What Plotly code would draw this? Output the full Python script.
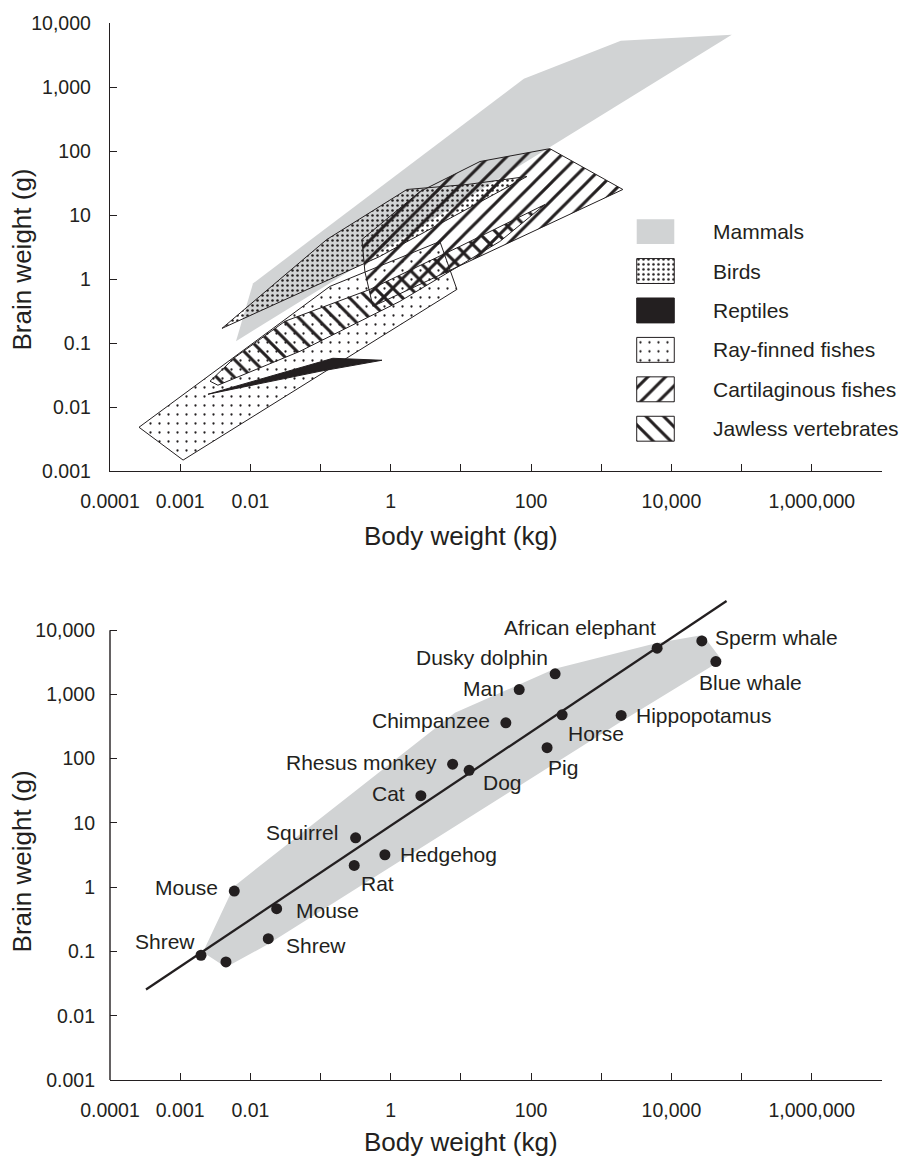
import numpy as np
import plotly.graph_objects as go

INK = "#231f20"
GRAY = "#d1d3d4"
FONT = "Liberation Sans, Arial, Helvetica, sans-serif"

# ---------------- Top panel: envelopes (body kg, brain g) ----------------
groups = ["Mammals", "Birds", "Reptiles", "Ray-finned fishes",
          "Cartilaginous fishes", "Jawless vertebrates"]

mammals_body = [0.0109, 78.9, 1900, 72400, 0.00624]
mammals_brain = [0.857, 1350, 5300, 6560, 0.107]
birds_body = [0.00394, 0.123, 1.70, 12.2, 87.1, 0.70]
birds_brain = [0.170, 4.16, 25.1, 30.0, 40.0, 2.26]
reptiles_body = [0.00249, 0.150, 0.750, 0.098]
reptiles_brain = [0.0159, 0.058, 0.054, 0.0363]
rayfin_body = [0.000259, 0.136, 5.02, 8.77, 0.0011]
rayfin_brain = [0.00485, 0.769, 3.87, 0.690, 0.00149]
cartil_body = [0.389, 2.61, 18.7, 185, 2030, 0.557, 0.428]
cartil_brain = [4.16, 23.3, 68.6, 109, 25.1, 0.375, 1.32]
jawless_body = [0.00266, 0.00604, 0.0311, 0.506, 9.68, 157, 35.9, 1.35, 0.0509, 0.00345]
jawless_brain = [0.0254, 0.060, 0.219, 0.690, 3.24, 14.6, 3.87, 0.449, 0.0745, 0.022]

envelopes = {
    "Mammals": (mammals_body, mammals_brain),
    "Birds": (birds_body, birds_brain),
    "Reptiles": (reptiles_body, reptiles_brain),
    "Ray-finned fishes": (rayfin_body, rayfin_brain),
    "Cartilaginous fishes": (cartil_body, cartil_brain),
    "Jawless vertebrates": (jawless_body, jawless_brain),
}
draw_order = ["Mammals", "Ray-finned fishes", "Birds", "Jawless vertebrates",
              "Cartilaginous fishes", "Reptiles"]

TR = "rgba(0,0,0,0)"
styles = {
    "Mammals": dict(fillcolor=GRAY, line=dict(width=0, color=GRAY)),
    "Birds": dict(fillcolor=TR, line=dict(width=1, color=INK),
                  fillpattern=dict(shape=".", size=5, solidity=0.2, fgcolor=INK,
                                   bgcolor=TR, fgopacity=1)),
    "Reptiles": dict(fillcolor=INK, line=dict(width=1, color=INK)),
    "Ray-finned fishes": dict(fillcolor="white", line=dict(width=1, color=INK),
                              fillpattern=dict(shape=".", size=9, solidity=0.05, fgcolor=INK,
                                               bgcolor="white", fgopacity=1)),
    "Cartilaginous fishes": dict(fillcolor=TR, line=dict(width=1, color=INK),
                                 fillpattern=dict(shape="/", size=12.5, solidity=0.24, fgcolor=INK,
                                                  bgcolor=TR, fgopacity=1)),
    "Jawless vertebrates": dict(fillcolor=TR, line=dict(width=1, color=INK),
                                fillpattern=dict(shape="\\", size=12.5, solidity=0.24, fgcolor=INK,
                                                 bgcolor=TR, fgopacity=1)),
}
legend_bg = {"Birds": "white", "Cartilaginous fishes": "white", "Jawless vertebrates": "white"}

# ---------------- Bottom panel: mammals ----------------
animals = ["Shrew", "", "Mouse", "Mouse", "Shrew", "Squirrel", "Rat", "Hedgehog", "Cat",
           "Rhesus monkey", "Dog", "Chimpanzee", "Man", "Pig", "Dusky dolphin", "Horse",
           "Hippopotamus", "African elephant", "Sperm whale", "Blue whale"]
body_kg = [0.00198, 0.00449, 0.0059, 0.0237, 0.018, 0.316, 0.302, 0.826, 2.69,
           7.62, 13.1, 43.7, 67.7, 169, 220, 277, 1920, 6250, 27100, 42900]
brain_g = [0.0873, 0.0687, 0.869, 0.463, 0.158, 5.87, 2.18, 3.20, 26.6,
           82.2, 65.8, 362, 1191, 148, 2089, 482, 470, 5236, 6794, 3243]

hull_body = [0.00211, 0.00583, 8.22, 67.0, 218, 6190, 28000, 52200, 1900, 0.0178, 0.00449]
hull_brain = [0.0973, 1.03, 518, 1409, 2500, 6324, 8414, 3445, 375, 0.129, 0.0569]

line_body = [0.000326, 60950]
line_brain = [0.0256, 28400]

# label placement (anchor, x shift px, y shift px)
label_pos = [("right", -4, 14), None, ("right", -14, 4), ("left", 17, -2), ("left", 16, -7),
             ("right", -16, 5), ("left", 5, -18), ("left", 13, 0), ("right", -14, 2),
             ("right", -14, 2), ("left", 12, -12), ("right", -14, 2), ("right", -13, 1),
             ("left", -1, -20), ("right", -5, 16), ("left", 4, -19), ("left", 13, 0),
             ("right", 1, 21), ("left", 11, 3), ("left", -19, -21)]

# ---------------- Axes ticks ----------------
x_tickvals = [10.0 ** k for k in range(-4, 8)]
x_ticktext = ["0.0001", "0.001", "0.01", "", "1", "", "100", "", "10,000", "", "1,000,000", ""]
y_tickvals = [10.0 ** k for k in range(-3, 5)]
y_ticktext = ["0.001", "0.01", "0.1", "1", "10", "100", "1,000", "10,000"]

fig = go.Figure()

for g in draw_order:
    bx, by = envelopes[g]
    fig.add_trace(go.Scatter(x=bx + [bx[0]], y=by + [by[0]], mode="lines", fill="toself",
                             xaxis="x", yaxis="y", showlegend=False, hoverinfo="skip",
                             **styles[g]))

# legend panel
h = 0.316
for i, g in enumerate(groups):
    st = dict(styles[g])
    if g in legend_bg:
        st["fillcolor"] = legend_bg[g]
        if "fillpattern" in st:
            fp = dict(st["fillpattern"])
            fp["bgcolor"] = "white"
            st["fillpattern"] = fp
    fig.add_trace(go.Scatter(x=[0, 1, 1, 0, 0], y=[i - h, i - h, i + h, i + h, i - h],
                             mode="lines", fill="toself", xaxis="x3", yaxis="y3",
                             showlegend=False, hoverinfo="skip", **st))

# bottom panel
fig.add_trace(go.Scatter(x=hull_body + [hull_body[0]], y=hull_brain + [hull_brain[0]],
                         mode="lines", fill="toself", fillcolor=GRAY, line=dict(width=0, color=GRAY),
                         xaxis="x2", yaxis="y2", showlegend=False, hoverinfo="skip"))
fig.add_trace(go.Scatter(x=line_body, y=line_brain, mode="lines",
                         line=dict(color=INK, width=2.3), xaxis="x2", yaxis="y2", showlegend=False))
fig.add_trace(go.Scatter(x=body_kg, y=brain_g, mode="markers",
                         marker=dict(color=INK, size=11), xaxis="x2", yaxis="y2", showlegend=False))

annotations = []
for name, bx, by, pos in zip(animals, body_kg, brain_g, label_pos):
    if pos is None or not name:
        continue
    anchor, dx, dy = pos
    annotations.append(dict(x=np.log10(bx), y=np.log10(by), xref="x2", yref="y2", text=name,
                            showarrow=False, xanchor=anchor, yanchor="middle",
                            xshift=dx, yshift=dy, font=dict(family=FONT, size=21, color=INK)))

for i, g in enumerate(groups):
    annotations.append(dict(x=0.7785, y=i, xref="paper", yref="y3", text=g, showarrow=False,
                            xanchor="left", yanchor="middle",
                            font=dict(family=FONT, size=21, color=INK)))

# axis titles
for (tx, ty, txt, ang) in [(-0.114, 0.7762, "Brain weight (g)", -90),
                           (-0.114, 0.2068, "Brain weight (g)", -90),
                           (0.4547, 0.5146, "Body weight (kg)", 0),
                           (0.4547, -0.0585, "Body weight (kg)", 0)]:
    annotations.append(dict(x=tx, y=ty, xref="paper", yref="paper", text=txt, showarrow=False,
                            textangle=ang, xanchor="center", yanchor="middle",
                            font=dict(family=FONT, size=26, color=INK)))


def xaxis(anchor):
    return dict(type="log", range=[-4, 7], domain=[0, 1], anchor=anchor, showgrid=False,
                zeroline=False, showline=True, linecolor=INK, linewidth=1.4, ticks="inside",
                ticklen=7, tickwidth=1.3, tickcolor=INK, tickmode="array", tickvals=x_tickvals,
                ticktext=x_ticktext, tickfont=dict(family=FONT, size=19.5, color=INK),
                ticklabelstandoff=12, fixedrange=True)


def yaxis(anchor, domain, rng, showline=True):
    return dict(type="log", range=rng, domain=domain, anchor=anchor, showgrid=False,
                zeroline=False, showline=showline, linecolor=INK, linewidth=1.4, ticks="inside",
                ticklen=7, tickwidth=1.3, tickcolor=INK, tickmode="array", tickvals=y_tickvals,
                ticktext=y_ticktext, tickfont=dict(family=FONT, size=19.5, color=INK),
                ticklabelstandoff=14, fixedrange=True)


# bottom panel: y range extended above 10,000 so the fitted line is not clipped;
# the visible axis line stops at 10,000 (drawn as a shape)
bottom_top_log = 4.5
bottom_domain_top = 0.4256 * (bottom_top_log + 3) / 7

fig.update_layout(
    width=905, height=1157,
    margin=dict(l=110, r=23, t=21, b=77),
    paper_bgcolor="white", plot_bgcolor="white",
    showlegend=False,
    xaxis=xaxis("y"), yaxis=yaxis("x", [0.576, 1.0], [-3, 4]),
    xaxis2=xaxis("y2"),
    yaxis2=yaxis("x2", [0.0, bottom_domain_top], [-3, bottom_top_log], showline=False),
    xaxis3=dict(domain=[0.6813, 0.7319], range=[-0.02, 1.02], anchor="y3", visible=False, fixedrange=True),
    yaxis3=dict(domain=[0.5975, 0.8213], range=[5.5, -0.5], anchor="x3", visible=False, fixedrange=True),
    annotations=annotations,
    shapes=[dict(type="line", xref="x2 domain", yref="y2", x0=0, x1=0,
                 y0=y_tickvals[0], y1=y_tickvals[-1],
                 line=dict(color=INK, width=1.4))],
    font=dict(family=FONT, color=INK),
)

fig.write_html("out.html")
